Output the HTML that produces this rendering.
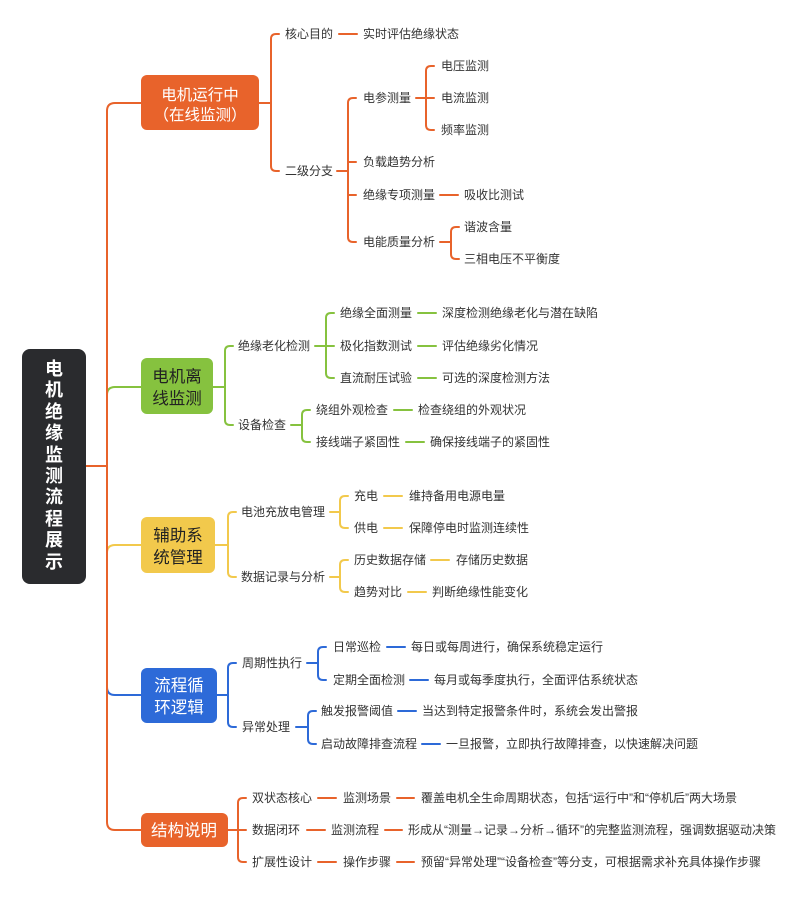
<!DOCTYPE html>
<html><head><meta charset="utf-8"><style>
html,body{margin:0;padding:0;background:#fff;}
svg{display:block;}
text{font-family:"Liberation Sans","Noto Sans CJK SC",sans-serif;font-size:12px;fill:#333;}
.o{stroke:#e8632b;}.g{stroke:#86c23f;}.y{stroke:#f2c94c;}.b{stroke:#2d6ad8;}
path{fill:none;stroke-width:2;stroke-linecap:round;}
.bx{font-size:16.5px;text-anchor:middle;}
.rt{font-size:18px;font-weight:bold;fill:#fff;text-anchor:middle;}
</style></head><body>
<svg width="800" height="897" viewBox="0 0 800 897" xmlns="http://www.w3.org/2000/svg">
<path class="g" d="M107 395 Q107 387 115 387 H141"/>
<path class="y" d="M107 553 Q107 545 115 545 H141"/>
<path class="b" d="M107 687 Q107 695 115 695 H141"/>
<path class="o" d="M141 103 H115 Q107 103 107 111 V822 Q107 830 115 830 H141"/>
<path class="o" d="M86 466 H107"/>
<rect x="22" y="349" width="64" height="235" rx="8" fill="#2a2b2e"/>
<text class="rt" x="54" y="375">电</text><text class="rt" x="54" y="396">机</text><text class="rt" x="54" y="418">绝</text><text class="rt" x="54" y="439">缘</text><text class="rt" x="54" y="461">监</text><text class="rt" x="54" y="482">测</text><text class="rt" x="54" y="503">流</text><text class="rt" x="54" y="525">程</text><text class="rt" x="54" y="546">展</text><text class="rt" x="54" y="568">示</text>

<rect x="141" y="75" width="118" height="55" rx="6" fill="#e8632b"/>
<text class="bx" x="200" y="100" style="fill:#fff;font-size:15.5px">电机运行中</text>
<text class="bx" x="200" y="120" style="fill:#fff;font-size:15.5px">（在线监测）</text>
<path class="o" d="M259 103 H271 M279 34 H276 Q271 34 271 39 V166 Q271 171 276 171 H279"/>
<text x="285" y="38">核心目的</text>
<path class="o" d="M339 34 H357"/><text x="363" y="38">实时评估绝缘状态</text>
<text x="285" y="175">二级分支</text>
<path class="o" d="M337 171 H348 M356 98 H353 Q348 98 348 103 V237 Q348 242 353 242 H356 M348 162 H356 M348 195 H356"/>
<text x="363" y="102">电参测量</text>
<text x="363" y="166">负载趋势分析</text>
<text x="363" y="199">绝缘专项测量</text>
<text x="363" y="246">电能质量分析</text>
<path class="o" d="M416 98 H426 M434 66 H431 Q426 66 426 71 V125 Q426 130 431 130 H434 M426 98 H434"/>
<text x="441" y="70">电压监测</text><text x="441" y="102">电流监测</text><text x="441" y="134">频率监测</text>
<path class="o" d="M440 195 H458"/><text x="464" y="199">吸收比测试</text>
<path class="o" d="M440 242 H451 M459 227 H456 Q451 227 451 232 V254 Q451 259 456 259 H459"/>
<text x="464" y="231">谐波含量</text><text x="464" y="263">三相电压不平衡度</text>

<rect x="141" y="358" width="72" height="56" rx="6" fill="#86c23f"/>
<text class="bx" x="177" y="382" style="fill:#222">电机离</text>
<text class="bx" x="177" y="404" style="fill:#222">线监测</text>
<path class="g" d="M213 387 H225 M233 346 H230 Q225 346 225 351 V420 Q225 425 230 425 H233"/>
<text x="238" y="350">绝缘老化检测</text>
<text x="238" y="429">设备检查</text>
<path class="g" d="M315 346 H326 M334 313 H331 Q326 313 326 318 V373 Q326 378 331 378 H334 M326 346 H334"/>
<text x="340" y="317">绝缘全面测量</text><text x="340" y="350">极化指数测试</text><text x="340" y="382">直流耐压试验</text>
<path class="g" d="M418 313 H436 M418 346 H436 M418 378 H436"/>
<text x="442" y="317">深度检测绝缘老化与潜在缺陷</text><text x="442" y="350">评估绝缘劣化情况</text><text x="442" y="382">可选的深度检测方法</text>
<path class="g" d="M291 425 H302 M310 410 H307 Q302 410 302 415 V437 Q302 442 307 442 H310"/>
<text x="316" y="414">绕组外观检查</text><text x="316" y="446">接线端子紧固性</text>
<path class="g" d="M394 410 H412 M406 442 H424"/>
<text x="418" y="414">检查绕组的外观状况</text><text x="430" y="446">确保接线端子的紧固性</text>

<rect x="141" y="517" width="74" height="56" rx="6" fill="#f2c94c"/>
<text class="bx" x="178" y="541" style="fill:#222">辅助系</text>
<text class="bx" x="178" y="563" style="fill:#222">统管理</text>
<path class="y" d="M215 545 H228 M236 512 H233 Q228 512 228 517 V572 Q228 577 233 577 H236"/>
<text x="241" y="516">电池充放电管理</text><text x="241" y="581">数据记录与分析</text>
<path class="y" d="M330 512 H340 M348 496 H345 Q340 496 340 501 V523 Q340 528 345 528 H348"/>
<text x="354" y="500">充电</text><text x="354" y="532">供电</text>
<path class="y" d="M384 496 H402 M384 528 H402"/>
<text x="409" y="500">维持备用电源电量</text><text x="409" y="532">保障停电时监测连续性</text>
<path class="y" d="M330 577 H340 M348 560 H345 Q340 560 340 565 V587 Q340 592 345 592 H348"/>
<text x="354" y="564">历史数据存储</text><text x="354" y="596">趋势对比</text>
<path class="y" d="M431 560 H449 M408 592 H426"/>
<text x="456" y="564">存储历史数据</text><text x="432" y="596">判断绝缘性能变化</text>

<rect x="141" y="668" width="76" height="55" rx="6" fill="#2d6ad8"/>
<text class="bx" x="179" y="691" style="fill:#fff">流程循</text>
<text class="bx" x="179" y="713" style="fill:#fff">环逻辑</text>
<path class="b" d="M217 695 H228 M236 663 H233 Q228 663 228 668 V722 Q228 727 233 727 H236"/>
<text x="242" y="667">周期性执行</text><text x="242" y="731">异常处理</text>
<path class="b" d="M307 663 H318 M326 647 H323 Q318 647 318 652 V675 Q318 680 323 680 H326"/>
<text x="333" y="651">日常巡检</text><text x="333" y="684">定期全面检测</text>
<path class="b" d="M387 647 H405 M410 680 H428"/>
<text x="411" y="651">每日或每周进行，确保系统稳定运行</text><text x="434" y="684">每月或每季度执行，全面评估系统状态</text>
<path class="b" d="M296 727 H308 M316 711 H313 Q308 711 308 716 V739 Q308 744 313 744 H316"/>
<text x="321" y="715">触发报警阈值</text><text x="321" y="748">启动故障排查流程</text>
<path class="b" d="M398 711 H416 M422 744 H440"/>
<text x="422" y="715">当达到特定报警条件时，系统会发出警报</text><text x="446" y="748">一旦报警，立即执行故障排查，以快速解决问题</text>

<rect x="141" y="813" width="87" height="34" rx="6" fill="#e8632b"/>
<text class="bx" x="184" y="836" style="fill:#fff;font-size:16.5px">结构说明</text>
<path class="o" d="M228 830 H238 M246 798 H243 Q238 798 238 803 V857 Q238 862 243 862 H246 M238 830 H246"/>
<text x="252" y="802">双状态核心</text><text x="252" y="834">数据闭环</text><text x="252" y="866">扩展性设计</text>
<path class="o" d="M318 798 H336 M307 830 H325 M318 862 H336 M397 798 H414 M385 830 H402 M397 862 H414"/>
<text x="343" y="802">监测场景</text><text x="331" y="834">监测流程</text><text x="343" y="866">操作步骤</text>
<text x="421" y="802">覆盖电机全生命周期状态，包括“运行中”和“停机后”两大场景</text>
<text x="408" y="834">形成从“测量→记录→分析→循环”的完整监测流程，强调数据驱动决策</text>
<text x="421" y="866">预留“异常处理”“设备检查”等分支，可根据需求补充具体操作步骤</text>
</svg>
</body></html>
